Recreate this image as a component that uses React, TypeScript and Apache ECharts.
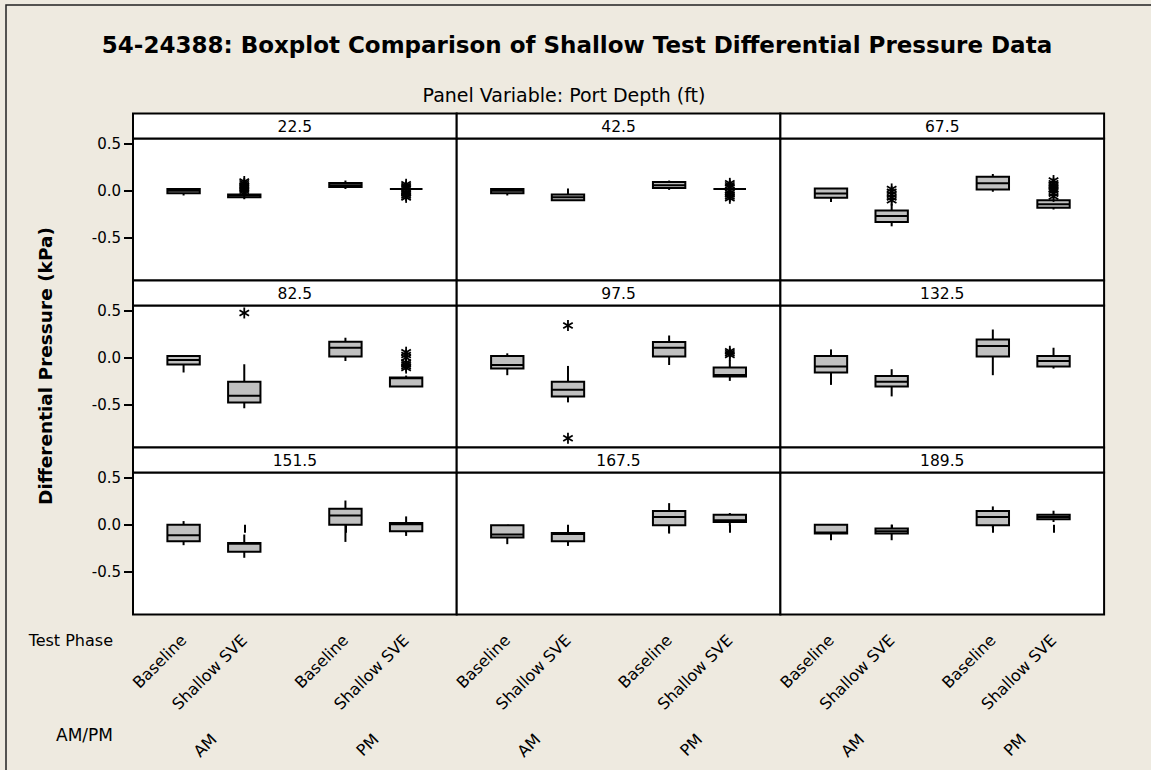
import { useEffect, useRef } from "react";
import * as echarts from "echarts";

// Panel variable: port depth (ft)
const depthLabels = ["22.5", "42.5", "67.5", "82.5", "97.5", "132.5", "151.5", "167.5", "189.5"];
// x categories (test phase within AM/PM), placed on a 0..16 slot axis
const phaseLabels = ["Baseline", "Shallow SVE", "Baseline", "Shallow SVE"];
const phaseSlots = [2.5, 5.5, 10.5, 13.5];
const ampmLabels = ["AM", "PM"];
const ampmSlots = [4, 12];
const yTicks = [-0.5, 0, 0.5];

// [min, Q1, median, Q3, max] for Baseline AM, Shallow SVE AM, Baseline PM, Shallow SVE PM
const box22_5 = [[-0.05, -0.025, 0.0, 0.02, 0.02], [-0.09, -0.07, -0.05, -0.04, -0.035], [0.02, 0.04, 0.06, 0.085, 0.11], [0.02, 0.02, 0.02, 0.02, 0.02]];
const box42_5 = [[-0.05, -0.025, 0.0, 0.02, 0.02], [-0.1, -0.1, -0.07, -0.04, 0.025], [0.01, 0.03, 0.06, 0.095, 0.11], [0.02, 0.02, 0.02, 0.02, 0.02]];
const box67_5 = [[-0.12, -0.075, -0.03, 0.025, 0.025], [-0.38, -0.335, -0.27, -0.21, -0.135], [-0.01, 0.015, 0.08, 0.15, 0.18], [-0.2, -0.18, -0.145, -0.1, -0.1]];
const box82_5 = [[-0.157, -0.072, -0.023, 0.019, 0.019], [-0.54, -0.477, -0.406, -0.257, -0.069], [-0.034, 0.013, 0.108, 0.172, 0.215], [-0.306, -0.306, -0.22, -0.21, -0.19]];
const box97_5 = [[-0.186, -0.115, -0.077, 0.019, 0.048], [-0.477, -0.413, -0.343, -0.257, -0.087], [-0.077, 0.013, 0.108, 0.168, 0.239], [-0.247, -0.2, -0.185, -0.104, -0.02]];
const box132_5 = [[-0.29, -0.157, -0.094, 0.019, 0.09], [-0.413, -0.306, -0.257, -0.194, -0.122], [-0.186, 0.013, 0.126, 0.197, 0.303], [-0.115, -0.094, -0.034, 0.019, 0.108]];
const box151_5 = [[-0.218, -0.176, -0.112, 0.0, 0.04], [-0.353, -0.289, -0.204, -0.194, -0.104], [-0.183, 0.0, 0.101, 0.172, 0.26], [-0.119, -0.069, 0.005, 0.019, 0.09]];
const box167_5 = [[-0.207, -0.136, -0.104, -0.005, -0.005], [-0.226, -0.176, -0.098, -0.087, -0.04], [-0.094, -0.005, 0.083, 0.147, 0.232], [-0.009, 0.03, 0.048, 0.109, 0.126]];
const box189_5 = [[-0.165, -0.094, -0.083, 0.002, 0.002], [-0.165, -0.094, -0.068, -0.04, 0.002], [-0.034, -0.005, 0.083, 0.147, 0.197], [0.03, 0.059, 0.083, 0.109, 0.151]];

// outliers per group (same group order as above)
const out22_5 = [[], [0.1, 0.08, 0.06, 0.04, 0.02, 0.0, -0.02], [], [0.07, 0.05, 0.035, 0.0, -0.015, -0.03, -0.05, -0.07]];
const out42_5 = [[], [], [], [0.08, 0.06, 0.04, 0.0, -0.02, -0.04, -0.06, -0.08]];
const out67_5 = [[], [0.02, -0.01, -0.04, -0.07, -0.1], [], [0.11, 0.08, 0.06, 0.04, 0.02, 0.0, -0.03, -0.06]];
const out82_5 = [[], [0.48], [], [0.06, 0.03, 0.0, -0.05, -0.07, -0.09, -0.11]];
const out97_5 = [[], [0.346, -0.86], [], [0.07, 0.05, 0.03]];
const out132_5 = [[], [], [], []];
const out151_5 = [[], [], [], []];
const out167_5 = [[], [], [], []];
const out189_5 = [[], [], [], []];

const allBoxes = [box22_5, box42_5, box67_5, box82_5, box97_5, box132_5, box151_5, box167_5, box189_5];
const allOutliers = [out22_5, out42_5, out67_5, out82_5, out97_5, out132_5, out151_5, out167_5, out189_5];

const FONT = "DejaVu Sans";
const BG = "#EEEAE0";
const BOX_FILL = "#C0C0C0";

export default function App() {
  const ref = useRef<HTMLDivElement>(null);

  useEffect(() => {
    document.body.style.margin = "0";
    document.body.style.overflow = "hidden";
    if (!ref.current) return;
    const chart = echarts.init(ref.current, null, { renderer: "svg" });

    const L0 = 133;
    const W = 323.7;
    const T0 = 113.5;
    const STRIP = 25;
    const PH = 142;
    const STRIDE = STRIP + PH;

    const grids: any[] = [];
    const xAxes: any[] = [];
    const yAxes: any[] = [];
    const series: any[] = [];
    const graphics: any[] = [];

    const boxRender = (params: any, api: any) => {
      const x = api.value(0);
      const lo = api.coord([x, api.value(1)]);
      const q1 = api.coord([x, api.value(2)]);
      const md = api.coord([x, api.value(3)]);
      const q3 = api.coord([x, api.value(4)]);
      const hi = api.coord([x, api.value(5)]);
      const w = api.size([1.6, 0])[0];
      const cx = lo[0];
      const st = { stroke: "#000", lineWidth: 2 };
      return {
        type: "group",
        children: [
          { type: "line", shape: { x1: cx, y1: q3[1], x2: cx, y2: hi[1] }, style: st },
          { type: "line", shape: { x1: cx, y1: q1[1], x2: cx, y2: lo[1] }, style: st },
          { type: "rect", shape: { x: cx - w / 2, y: q3[1], width: w, height: q1[1] - q3[1] }, style: { fill: BOX_FILL, stroke: "#000", lineWidth: 2 } },
          { type: "line", shape: { x1: cx - w / 2, y1: md[1], x2: cx + w / 2, y2: md[1] }, style: st },
        ],
      };
    };

    const starRender = (params: any, api: any) => {
      const p = api.coord([api.value(0), api.value(1)]);
      const r = 5.5;
      const dx = r * 0.866;
      const dy = r * 0.5;
      const st = { stroke: "#000", lineWidth: 1.8 };
      return {
        type: "group",
        children: [
          { type: "line", shape: { x1: p[0], y1: p[1] - r, x2: p[0], y2: p[1] + r }, style: st },
          { type: "line", shape: { x1: p[0] - dx, y1: p[1] - dy, x2: p[0] + dx, y2: p[1] + dy }, style: st },
          { type: "line", shape: { x1: p[0] - dx, y1: p[1] + dy, x2: p[0] + dx, y2: p[1] - dy }, style: st },
        ],
      };
    };

    for (let i = 0; i < 9; i++) {
      const r = Math.floor(i / 3);
      const c = i % 3;
      const left = L0 + c * W;
      const stripTop = T0 + r * STRIDE;
      const top = stripTop + STRIP;

      grids.push({
        left,
        top,
        width: W,
        height: PH,
        show: true,
        backgroundColor: "#fff",
        borderColor: "#000",
        borderWidth: 2,
      });

      const xi = xAxes.length;
      xAxes.push({
        type: "value",
        gridIndex: i,
        min: 0,
        max: 16,
        axisLine: { show: false },
        splitLine: { show: false },
        axisTick: { show: r === 2, customValues: phaseSlots, length: 8, lineStyle: { color: "#000", width: 2 } },
        axisLabel: {
          show: r === 2,
          customValues: phaseSlots,
          rotate: 45,
          margin: 23,
          color: "#000",
          fontFamily: FONT,
          fontSize: 16,
          formatter: (v: number) => {
            const k = phaseSlots.indexOf(v);
            return k >= 0 ? phaseLabels[k] : "";
          },
        },
      });
      if (r === 2) {
        xAxes.push({
          type: "value",
          gridIndex: i,
          min: 0,
          max: 16,
          position: "bottom",
          offset: 112,
          axisLine: { show: false },
          splitLine: { show: false },
          axisTick: { show: false },
          axisLabel: {
            customValues: ampmSlots,
            rotate: 45,
            margin: 10,
            color: "#000",
            fontFamily: FONT,
            fontSize: 16,
            formatter: (v: number) => {
              const k = ampmSlots.indexOf(v);
              return k >= 0 ? ampmLabels[k] : "";
            },
          },
        });
      }

      yAxes.push({
        type: "value",
        gridIndex: i,
        min: -0.96,
        max: 0.56,
        axisLine: { show: false },
        splitLine: { show: false },
        axisTick: { show: c === 0, customValues: yTicks, length: 9, lineStyle: { color: "#000", width: 2 } },
        axisLabel: {
          show: c === 0,
          customValues: yTicks,
          margin: 12,
          color: "#000",
          fontFamily: FONT,
          fontSize: 15,
          formatter: (v: number) => Number(v).toFixed(1),
        },
      });

      const boxes = allBoxes[i].map((b, g) => [phaseSlots[g], ...b]);
      series.push({
        type: "custom",
        xAxisIndex: xi,
        yAxisIndex: i,
        data: boxes,
        encode: { x: 0, y: [1, 2, 3, 4, 5] },
        renderItem: boxRender,
        silent: true,
        clip: false,
      });

      const outs: number[][] = [];
      allOutliers[i].forEach((vals, g) => vals.forEach((v) => outs.push([phaseSlots[g], v])));
      if (outs.length) {
        series.push({
          type: "custom",
          xAxisIndex: xi,
          yAxisIndex: i,
          data: outs,
          encode: { x: 0, y: 1 },
          renderItem: starRender,
          silent: true,
          z: 3,
        });
      }

      graphics.push({
        type: "group",
        z: 50,
        children: [
          {
            type: "rect",
            shape: { x: left, y: stripTop, width: W, height: STRIP },
            style: { fill: "#fff", stroke: "#000", lineWidth: 2 },
          },
          {
            type: "text",
            x: left + W / 2,
            y: stripTop + STRIP / 2 + 0.5,
            style: { text: depthLabels[i], fill: "#000", fontFamily: FONT, fontSize: 15.5, align: "center", verticalAlign: "middle" },
          },
        ],
      });
    }

    graphics.push(
      { type: "polyline", shape: { points: [[6, 770], [6, 5], [1151, 5]] }, style: { stroke: "#222", lineWidth: 1.5, fill: null } },
      {
        type: "text",
        x: 577,
        y: 45,
        style: { text: "54-24388: Boxplot Comparison of Shallow Test Differential Pressure Data", fill: "#000", fontFamily: FONT, fontWeight: "bold", fontSize: 23, align: "center", verticalAlign: "middle" },
      },
      {
        type: "text",
        x: 564,
        y: 95,
        style: { text: "Panel Variable: Port Depth (ft)", fill: "#000", fontFamily: FONT, fontSize: 19, align: "center", verticalAlign: "middle" },
      },
      {
        type: "text",
        x: 45,
        y: 366,
        rotation: Math.PI / 2,
        style: { text: "Differential Pressure (kPa)", fill: "#000", fontFamily: FONT, fontWeight: "bold", fontSize: 18.5, align: "center", verticalAlign: "middle" },
      },
      {
        type: "text",
        x: 113,
        y: 640,
        style: { text: "Test Phase", fill: "#000", fontFamily: FONT, fontSize: 16, align: "right", verticalAlign: "middle" },
      },
      {
        type: "text",
        x: 113,
        y: 735,
        style: { text: "AM/PM", fill: "#000", fontFamily: FONT, fontSize: 17, align: "right", verticalAlign: "middle" },
      }
    );

    chart.setOption({
      animation: false,
      backgroundColor: BG,
      grid: grids,
      xAxis: xAxes,
      yAxis: yAxes,
      series,
      graphic: graphics,
    });

    return () => chart.dispose();
  }, []);

  return <div ref={ref} style={{ width: 1151, height: 770, position: "absolute", left: 0, top: 0 }} />;
}
